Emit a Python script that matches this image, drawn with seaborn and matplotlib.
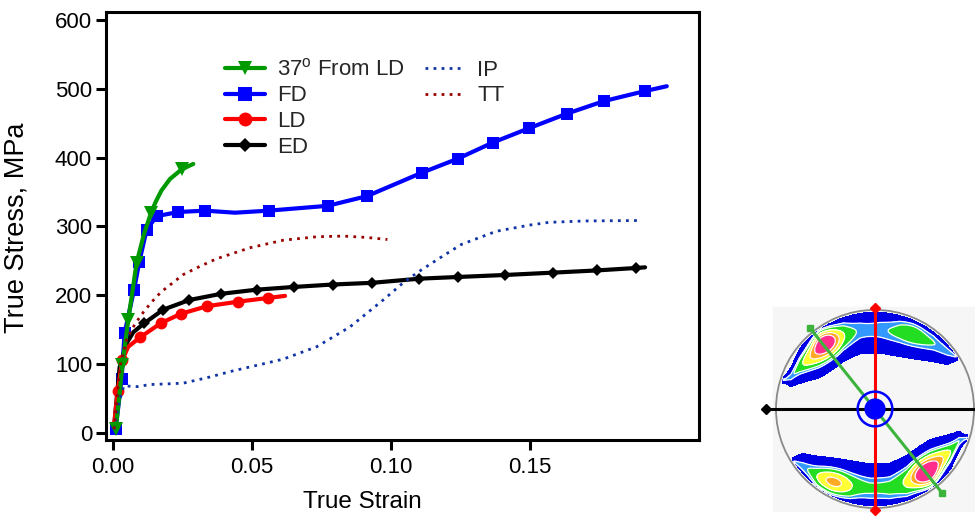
import numpy as np
import pandas as pd
import matplotlib
matplotlib.use("Agg")
import matplotlib.pyplot as plt
import seaborn as sns
from matplotlib.lines import Line2D
from matplotlib.patches import Circle, Rectangle

# ---------------- data ----------------
green_x = [0.0011, 0.0023, 0.0035, 0.0056, 0.0086, 0.0112, 0.0138, 0.0155, 0.0175, 0.0206, 0.0248, 0.0290]
green_y = [6, 50, 99, 164, 247, 288, 320, 336, 352, 369, 383, 391]
green_marks = [0, 2, 3, 4, 6, 10]

fd_x = [0.0011, 0.0032, 0.0043, 0.0077, 0.0096, 0.0122, 0.0158, 0.0236, 0.0332, 0.0440, 0.0562,
        0.0773, 0.0914, 0.1111, 0.1241, 0.1367, 0.1498, 0.1633, 0.1768, 0.1915, 0.1993]
fd_y = [6, 78, 145, 208, 249, 295, 315, 321, 323, 320, 323,
        330, 344, 378, 398.5, 422, 443, 464, 482.5, 497, 504]
fd_marks = [0, 1, 2, 3, 4, 5, 6, 7, 8, 10, 11, 12, 13, 14, 15, 16, 17, 18, 19]

ld_x = [0.0005, 0.0018, 0.0035, 0.0056, 0.0100, 0.0174, 0.0246, 0.0340, 0.0450, 0.0560, 0.0620]
ld_y = [10, 61, 106, 125, 139, 159.5, 173, 184, 190.5, 196, 199]
ld_marks = [1, 2, 4, 5, 6, 7, 8, 9]

ed_x = [0.0005, 0.0025, 0.0050, 0.0074, 0.0113, 0.0182, 0.0276, 0.0390, 0.0518, 0.0653, 0.0791,
        0.0934, 0.1103, 0.1243, 0.1412, 0.1584, 0.1741, 0.1884, 0.1915]
ed_y = [8, 95, 130, 146, 159, 179, 193, 202, 208, 212, 215.5,
        218, 224, 226.5, 229.4, 232.8, 236, 239.6, 240.5]
ed_marks = list(range(4, 18))

ip_x = [0.0005, 0.0020, 0.0040, 0.0090, 0.0134, 0.0200, 0.0254, 0.0340, 0.0434, 0.0530, 0.0614,
        0.0734, 0.0854, 0.0973, 0.1045, 0.1100, 0.1180, 0.1255, 0.1380, 0.1500, 0.1570, 0.1700, 0.1887]
ip_y = [5, 40, 68, 67, 70, 71, 72, 80, 90, 99, 107,
        125, 154, 193, 218, 234, 255, 274, 293, 302, 306, 308, 308.6]

tt_x = [0.0005, 0.0026, 0.0050, 0.0080, 0.0110, 0.0140, 0.0175, 0.0254, 0.0314, 0.0374, 0.0494,
        0.0614, 0.0734, 0.0830, 0.0914, 0.0988]
tt_y = [5, 96, 135, 158, 175, 190, 205, 230, 242, 253, 269,
        280, 285, 286, 284, 281]

labels = ["37$^{\\rm o}$ From LD", "FD", "LD", "ED", "IP", "TT"]
xticks = [0.0, 0.05, 0.10, 0.15]
xtick_labels = ["0.00", "0.05", "0.10", "0.15"]
yticks = [0, 100, 200, 300, 400, 500, 600]

# inset (pole figure) overlay lines, in unit-circle coordinates
inset_black_u = [-1.10, 1.05]
inset_black_v = [0.0, 0.0]
inset_red_u = [0.0, 0.0]
inset_red_v = [1.02, -1.02]
inset_green_u = [-0.66, 0.68]
inset_green_v = [0.82, -0.85]
band_u = [-1.0, -0.9, -0.85, -0.76, -0.56, -0.32, -0.15, 0.05, 0.25, 0.59, 0.73, 0.80, 0.86, 1.0]
band_c = [0.28, 0.30, 0.32, 0.42, 0.58, 0.75, 0.80, 0.80, 0.77, 0.66, 0.575, 0.54, 0.52, 0.50]
band_w = [0.01, 0.04, 0.09, 0.15, 0.23, 0.23, 0.22, 0.22, 0.22, 0.17, 0.12, 0.06, 0.01, 0.01]
# (u, v, sigma, amplitude) of the intensity maxima
spots = [(-0.52, 0.70, 0.09, 1.2), (-0.56, 0.64, 0.20, 1.2),
         (0.40, 0.82, 0.28, 0.30), (0.40, 0.84, 0.10, 0.30),
         (0.54, -0.68, 0.09, 1.2), (0.58, -0.62, 0.20, 1.2),
         (-0.44, -0.78, 0.14, 1.0), (0.0, -0.80, 0.50, 0.25)]

# ---------------- style ----------------
sns.set_theme(style="white")
plt.rcParams["font.family"] = ["Liberation Sans", "DejaVu Sans"]
plt.rcParams["mathtext.fontset"] = "custom"
plt.rcParams["mathtext.rm"] = "Liberation Sans"

C_GREEN = "#009a00"
C_BLUE = "#0000ff"
C_RED = "#ff0000"
C_BLACK = "#000000"
C_IP = "#1034a6"
C_TT = "#990000"

fig = plt.figure(figsize=(9.75, 5.17), dpi=100)
ax = fig.add_axes([106 / 975, 1 - 440 / 517, (699 - 106) / 975, (440 - 12) / 517])


def draw(x, y, **kw):
    df = pd.DataFrame({"strain": x, "stress": y})
    sns.lineplot(data=df, x="strain", y="stress", ax=ax, sort=False,
                 estimator=None, legend=False, **kw)


draw(fd_x, fd_y, color=C_BLUE, lw=3, marker="s", ms=8, markevery=fd_marks,
     markeredgecolor=C_BLUE, markeredgewidth=0)
draw(ed_x, ed_y, color=C_BLACK, lw=3, marker="D", ms=6.5, markevery=ed_marks,
     markeredgecolor=C_BLACK, markeredgewidth=0)
draw(ld_x, ld_y, color=C_RED, lw=3, marker="o", ms=8.5, markevery=ld_marks,
     markeredgecolor=C_RED, markeredgewidth=0)
draw(green_x, green_y, color=C_GREEN, lw=3, marker="v", ms=10, markevery=green_marks,
     markeredgecolor=C_GREEN, markeredgewidth=0)
draw(ip_x, ip_y, color=C_IP, lw=2, linestyle=(0, (1, 1.9)))
draw(tt_x, tt_y, color=C_TT, lw=2, linestyle=(0, (1, 1.9)))

ax.set_xlim(-0.0024, 0.2109)
ax.set_ylim(-10.7, 612)
ax.set_xticks(xticks)
ax.set_xticklabels(xtick_labels)
ax.set_yticks(yticks)
ax.tick_params(axis="both", which="both", bottom=True, left=True, direction="out",
               length=7, width=2.2, labelsize=16, colors="black")
ax.tick_params(axis="x", pad=5)
ax.tick_params(axis="y", pad=3)
for s in ax.spines.values():
    s.set_linewidth(2.2)
    s.set_color("black")

ax.set_xlabel("True Strain", fontsize=17.5, color="black")
ax.set_ylabel("True Stress, MPa", fontsize=19.5, color="black")
ax.xaxis.set_label_coords((362 - 106) / 593, -0.12)
ax.yaxis.set_label_coords(-0.129, 0.495)

# legend (two columns: 4 + 2)
handles = [
    Line2D([], [], color=C_GREEN, lw=3, marker="v", ms=10, markeredgewidth=0),
    Line2D([], [], color=C_BLUE, lw=3, marker="s", ms=10, markeredgewidth=0),
    Line2D([], [], color=C_RED, lw=3, marker="o", ms=10, markeredgewidth=0),
    Line2D([], [], color=C_BLACK, lw=3, marker="D", ms=7, markeredgewidth=0),
    Line2D([], [], color=C_IP, lw=2, linestyle=(0, (1, 1.9))),
    Line2D([], [], color=C_TT, lw=2, linestyle=(0, (1, 1.9))),
    Line2D([], [], color="none"),
    Line2D([], [], color="none"),
]
leg_labels = labels + [" ", " "]
ax.legend(handles, leg_labels, ncol=2, loc="upper left", bbox_to_anchor=(0.182, 0.917),
          frameon=False, borderpad=0, handlelength=1.8, handletextpad=0.55,
          columnspacing=0.9, labelspacing=0.21, fontsize=16)

# ---------------- inset pole figure ----------------
ax2 = fig.add_axes([766 / 975, 0, (975 - 766) / 975, (517 - 300) / 517])
ax2.set_xlim(-1.101, 1.01)
ax2.set_ylim(-1.09, 1.10)
ax2.set_axis_off()
ax2.add_patch(Rectangle((-1.03, -1.03), 2.1, 2.06, color="#f6f6f6", zorder=0))

g = np.linspace(-1.0, 1.0, 500)
U, V = np.meshgrid(g, g)
ct = np.interp(U, band_u, band_c)
wt = np.interp(U, band_u, band_w)
cb = -np.interp(-U, band_u, band_c)
wb = np.interp(-U, band_u, band_w)
B = np.maximum(np.exp(-((V - ct) / wt) ** 2), np.exp(-((V - cb) / wb) ** 2))
amp = np.ones_like(U)
for (su, sv, ss, sa) in spots:
    amp += sa * np.exp(-((U - su) ** 2 + (V - sv) ** 2) / (2 * ss ** 2))
F = B * amp
F = np.where(U ** 2 + V ** 2 < 0.975 ** 2, F, 0.0)
levels = [0.35, 1.02, 1.2, 1.55, 1.95, 2.35, 10]
cols = ["#0000e6", "#3399ff", "#22dd22", "#ffff33", "#ffaa22", "#ff2d8c"]
ax2.contourf(U, V, F, levels=levels, colors=cols, zorder=1)
ax2.contour(U, V, F, levels=levels[1:-1], colors="white", linewidths=0.9, zorder=2)
ax2.add_patch(Circle((0, 0), 1.0, fill=False, ec="#8a8a8a", lw=1.3, zorder=3))

ax2.plot(inset_black_u, inset_black_v, color="black", lw=2.2, marker="D", ms=5,
         markevery=[0], zorder=4, clip_on=False)
ax2.plot(inset_red_u, inset_red_v, color="#ff0000", lw=2.2, marker="D", ms=5, zorder=5)
ax2.plot(inset_green_u, inset_green_v, color="#3cb43c", lw=2.2, marker="s", ms=5, zorder=5)
ax2.add_patch(Circle((0, 0), 0.10, color="#0000ff", zorder=6))
ax2.add_patch(Circle((0, 0), 0.175, fill=False, ec="#0000ff", lw=1.8, zorder=6))

fig.savefig("out.png", dpi=100)
